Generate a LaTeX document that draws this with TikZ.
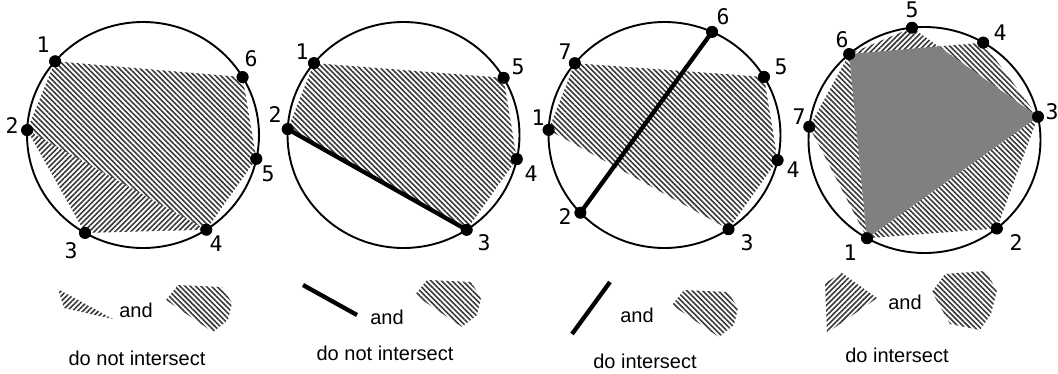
\documentclass[tikz,border=0pt]{standalone}
\usepackage{fontspec}
\setmainfont{Liberation Sans}
\newfontfamily\numfont{DejaVu Sans Mono}
\usetikzlibrary{patterns.meta}
\tikzset{
  rim/.style={line width=1.9pt},
  dot/.style={circle, fill=black, inner sep=0pt, minimum size=11.5pt},
  num/.style={font=\numfont\fontsize{21.5}{25}\selectfont, inner sep=0pt},
  txt/.style={font=\fontsize{20}{24}\selectfont, inner sep=0pt},
  hatchNW/.style={pattern={Lines[angle=-45,distance=3.7pt,line width=1.6pt]}, pattern color=black!78},
  hatchNE/.style={pattern={Lines[angle=45,distance=3.7pt,line width=1.6pt]}, pattern color=black!78},
  chord/.style={line width=4.3pt},
  isect/.style={fill=black!50},
}
\begin{document}
\begin{tikzpicture}[x=1pt,y=-1pt]
\useasboundingbox (0,0) rectangle (1058,373);

% ---------------- Panel 1 ----------------
\path (55.1,61.3) node[dot] (a1) {}
      (27.1,130.1) node[dot] (a2) {}
      (85,232.9) node[dot] (a3) {}
      (206.3,229.7) node[dot] (a4) {}
      (256.3,158.8) node[dot] (a5) {}
      (242.6,77.1) node[dot] (a6) {};
\fill[hatchNW] (a1.center) -- (a6.center) -- (a5.center) -- (a4.center) -- (a2.center) -- cycle;
\fill[hatchNE] (a2.center) -- (a3.center) -- (a4.center) -- cycle;
\draw[rim] (143,135) ellipse [x radius=116, y radius=113];
\foreach \n in {1,...,6} {\fill (a\n) circle [radius=6pt];}
\node[num] (la1) at (43,45) {1};
\node[num] (la2) at (12,126) {2};
\node[num] (la3) at (71,251) {3};
\node[num] (la4) at (216,244) {4};
\node[num] (la5) at (268,174) {5};
\node[num] (la6) at (251,59) {6};
% legend 1
\fill[hatchNE] (58,289) -- (113,319) -- (64,308) -- cycle;
\node[txt] (and1) at (136,310) {and};
\fill[hatchNW] (166,300) -- (178,285) -- (222,287) -- (232,303) -- (228,320) -- (213,332) -- cycle;
\node[txt] (cap1) at (137,358) {do not intersect};

% ---------------- Panel 2 ----------------
\path (314.0,63.1) node[dot] (b1) {}
      (287.7,129.1) node[dot] (b2) {}
      (466.7,229.8) node[dot] (b3) {}
      (516.8,159.1) node[dot] (b4) {}
      (503.6,77.8) node[dot] (b5) {};
\fill[hatchNW] (b1.center) -- (b5.center) -- (b4.center) -- (b3.center) -- (b2.center) -- cycle;
\draw[rim] (403.5,135) ellipse [x radius=116, y radius=113];
\draw[chord] (b2.center) -- (b3.center);
\node[num] (lb1) at (302,52) {1};
\node[num] (lb2) at (275,115) {2};
\node[num] (lb3) at (484,243) {3};
\node[num] (lb4) at (531,174) {4};
\node[num] (lb5) at (518,67) {5};
% legend 2
\coordinate (s2a) at (303,285);
\coordinate (s2b) at (357,315);
\draw[chord] (s2a) -- (s2b);
\node[txt] (and2) at (387,317) {and};
\fill[hatchNW] (415,295) -- (427,280) -- (471,282) -- (481,298) -- (477,315) -- (462,327) -- cycle;
\node[txt] (cap2) at (385,353) {do not intersect};

% ---------------- Panel 3 ----------------
\path (548.6,129.9) node[dot] (c1) {}
      (580.4,212.7) node[dot] (c2) {}
      (728.5,229.2) node[dot] (c3) {}
      (777.6,160.2) node[dot] (c4) {}
      (764.0,76.9) node[dot] (c5) {}
      (712.1,31.9) node[dot] (c6) {}
      (574.8,63.2) node[dot] (c7) {};
\fill[hatchNW] (c7.center) -- (c5.center) -- (c4.center) -- (c3.center) -- (c1.center) -- cycle;
\draw[rim] (664.5,135) ellipse [x radius=116, y radius=113];
\draw[chord] (c2.center) -- (c6.center);
\node[num] (lc1) at (538,118) {1};
\node[num] (lc2) at (565,217) {2};
\node[num] (lc3) at (747,243) {3};
\node[num] (lc4) at (793,170) {4};
\node[num] (lc5) at (781,67) {5};
\node[num] (lc6) at (723,17) {6};
\node[num] (lc7) at (565,52) {7};
% legend 3
\coordinate (s3a) at (610,282);
\coordinate (s3b) at (572,334);
\draw[chord] (s3a) -- (s3b);
\node[txt] (and3) at (637,315) {and};
\fill[hatchNW] (672,305) -- (684,290) -- (728,292) -- (738,308) -- (734,325) -- (719,337) -- cycle;
\node[txt] (cap3) at (645,361) {do intersect};

% ---------------- Panel 4 ----------------
\path (867.0,238.2) node[dot] (e1) {}
      (996.8,228.5) node[dot] (e2) {}
      (1038.0,116.7) node[dot] (e3) {}
      (983.2,42.6) node[dot] (e4) {}
      (912.0,27.7) node[dot] (e5) {}
      (849.2,54.1) node[dot] (e6) {}
      (809.3,126.7) node[dot] (e7) {};
\coordinate (eP) at (intersection of e6.center--e4.center and e5.center--e3.center);
\fill[hatchNW] (e1.center) -- (e2.center) -- (e3.center) -- (e4.center) -- (e6.center) -- (e7.center) -- cycle;
\fill[white] (e1.center) -- (e6.center) -- (e5.center) -- (e3.center) -- cycle;
\fill[hatchNE] (e1.center) -- (e6.center) -- (e5.center) -- (e3.center) -- cycle;
\fill[isect] (e1.center) -- (e6.center) -- (eP) -- (e3.center) -- cycle;
\draw[rim] (924.5,140) ellipse [x radius=116, y radius=113];
\foreach \n in {1,...,7} {\fill (e\n) circle [radius=6pt];}
\node[num] (le1) at (850,253) {1};
\node[num] (le2) at (1016,243) {2};
\node[num] (le3) at (1052,112) {3};
\node[num] (le4) at (1000,33) {4};
\node[num] (le5) at (912,10) {5};
\node[num] (le6) at (842,40) {6};
\node[num] (le7) at (799,117) {7};
% legend 4
\fill[hatchNE] (825,283) -- (842,273) -- (877,298) -- (827,333) -- cycle;
\node[txt] (and4) at (905,302) {and};
\fill[hatchNW] (932,292) -- (945,274) -- (985,271) -- (997,290) -- (991,314) -- (980,330) -- (950,324) -- cycle;
\node[txt] (cap4) at (897,355) {do intersect};

% dots on top for panels 2 and 3
\foreach \n in {1,...,5} {\fill (b\n) circle [radius=6pt];}
\foreach \n in {1,...,7} {\fill (c\n) circle [radius=6pt];}
\end{tikzpicture}
\end{document}
